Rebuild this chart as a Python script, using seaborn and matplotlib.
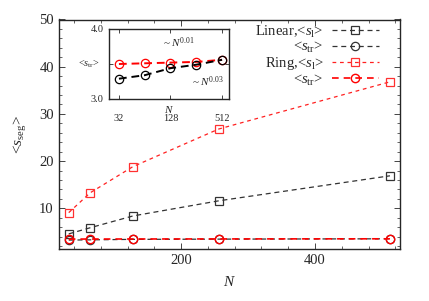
import matplotlib
matplotlib.use("Agg")
import matplotlib.pyplot as plt
from matplotlib.ticker import MultipleLocator, FixedLocator, NullLocator
import seaborn as sns
import pandas as pd

# data
N = [32, 64, 128, 256, 512]
linear_sl = [4.6, 5.9, 8.4, 11.6, 16.9]
linear_str = [3.29, 3.34, 3.44, 3.49, 3.56]
ring_sl = [9.1, 13.3, 18.85, 26.8, 36.8]
ring_str = [3.50, 3.51, 3.52, 3.53, 3.56]

sns.set_style("ticks")
plt.rcParams['font.family'] = ['Liberation Serif', 'DejaVu Serif']
plt.rcParams['mathtext.fontset'] = 'custom'
plt.rcParams['mathtext.rm'] = 'Liberation Serif'
plt.rcParams['mathtext.it'] = 'Liberation Serif:italic'
plt.rcParams['xtick.direction'] = 'in'
plt.rcParams['ytick.direction'] = 'in'

df = pd.DataFrame({'N': N, 'lin_sl': linear_sl, 'lin_str': linear_str,
                   'ring_sl': ring_sl, 'ring_str': ring_str})

fig = plt.figure(figsize=(4.29, 3.01), dpi=100)
ax = fig.add_axes([58.7/429, 1-249/301, (400-58.7)/429, (249-19.5)/301])

gray = '#333333'
sns.lineplot(data=df, x='N', y='lin_sl', ax=ax, color=gray, lw=0.9, ls=(0, (4, 3)),
             marker='s', ms=6, mfc='none', mec=gray, mew=0.9, label=r'Linear,<$s_{\mathrm{l}}$>')
sns.lineplot(data=df, x='N', y='lin_str', ax=ax, color=gray, lw=0.9, ls=(0, (4, 3)),
             marker='o', ms=6, mfc='none', mec=gray, mew=0.9, label=r'<$s_{\mathrm{tr}}$>')
sns.lineplot(data=df, x='N', y='ring_sl', ax=ax, color='#ff2020', lw=0.9, ls=(0, (3, 3)),
             marker='s', ms=6, mfc='none', mec='#ff3030', mew=0.9, label=r'Ring,<$s_{\mathrm{l}}$>')
sns.lineplot(data=df, x='N', y='ring_str', ax=ax, color='red', lw=1.2, ls=(0, (4, 3)),
             marker='o', ms=6, mfc='none', mec='red', mew=1.0, label=r'<$s_{\mathrm{tr}}$>')

ax.set_xlim(17, 527)
ax.set_ylim(1.4, 50)
ax.xaxis.set_major_locator(FixedLocator([200, 400]))
ax.xaxis.set_minor_locator(MultipleLocator(40))
ax.yaxis.set_major_locator(MultipleLocator(10))
ax.yaxis.set_minor_locator(MultipleLocator(2))
ax.set_yticks([10, 20, 30, 40, 50])
ax.tick_params(which='both', top=True, right=True, labelsize=10.5)
ax.tick_params(which='major', length=4, width=0.6)
ax.tick_params(which='minor', length=2, width=0.5)
for s in ax.spines.values():
    s.set_linewidth(1.0)
ax.set_xlabel(r'$N$', fontsize=11, labelpad=6)
ax.set_ylabel(r'<$s_{\mathrm{seg}}$>', fontsize=11, labelpad=8)

leg = ax.legend(loc='upper right', bbox_to_anchor=(0.955, 1.008), frameon=False,
                markerfirst=False, fontsize=10.5, handlelength=3.2, labelspacing=0.02,
                borderaxespad=0.0, handletextpad=0.6)
for t in leg.get_texts():
    t.set_ha('right')
leg._legend_box.align = 'right'

# inset
ins = fig.add_axes([109/429, 1-99/301, 120/429, 70/301])
sns.lineplot(data=df, x='N', y='ring_str', ax=ins, color='red', lw=1.4, ls=(0, (4, 2.5)),
             marker='o', ms=6, mfc='none', mec='red', mew=0.9)
sns.lineplot(data=df, x='N', y='lin_str', ax=ins, color='black', lw=1.4, ls=(0, (4, 2.5)),
             marker='o', ms=6, mfc='none', mec='black', mew=0.9)
ins.set_xscale('log')
ins.set_xlim(24.5, 617)
ins.set_ylim(3.0, 4.0)
ins.xaxis.set_major_locator(FixedLocator([32, 128, 512]))
ins.xaxis.set_minor_locator(NullLocator())
ins.set_xticklabels(['32', '128', '512'])
ins.set_yticks([3.0, 3.5, 4.0])
ins.set_yticklabels(['3.0', '', '4.0'])
ins.tick_params(which='both', top=True, right=True, labelsize=7.5, length=3, width=0.6, pad=11)
ins.tick_params(axis='y', pad=4)
ins.set_xlabel('')
ins.set_ylabel('')
ins.text(0.5, -0.07, r'$N$', transform=ins.transAxes, ha='center', va='top', fontsize=8)
ins.text(-0.17, 0.5, r'<$s_{\mathrm{tr}}$>', transform=ins.transAxes, ha='center', va='center', fontsize=7.5)
ins.text(0.58, 0.80, r'~ $N^{0.01}$', transform=ins.transAxes, ha='center', va='center', fontsize=8)
ins.text(0.83, 0.24, r'~ $N^{0.03}$', transform=ins.transAxes, ha='center', va='center', fontsize=8)
for s in ins.spines.values():
    s.set_linewidth(1.0)

fig.savefig('out.png', dpi=100)
